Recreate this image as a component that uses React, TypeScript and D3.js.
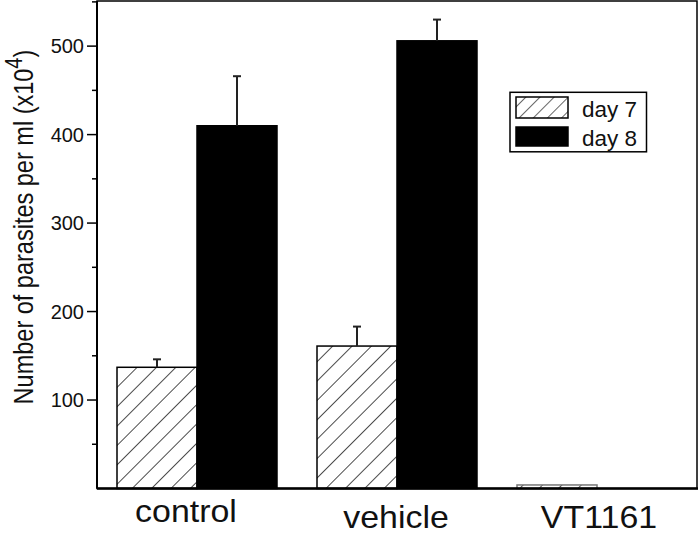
import React from "react";
import * as d3 from "d3";

const categories = ["control", "vehicle", "VT1161"];
const seriesNames = ["day 7", "day 8"];
const day7 = [137, 161, 4];
const day8 = [410, 506, 0];
const day7Err = [9, 22, 0];
const day8Err = [56, 24, 0];
const yTicks = [100, 200, 300, 400, 500];

// layout tweaks for category labels (pixels)
const labelDx = [-11, -1, 2];
const labelY = [522, 528, 528];

const W = 700, H = 535;
const L = 97, R = 697, T = 1, B = 488.5;

export default function App() {
  const x = d3.scaleBand<string>().domain(categories).range([L, R]).paddingInner(0.2).paddingOuter(0.1);
  const xs = d3.scaleBand<string>().domain(seriesNames).range([0, x.bandwidth()]);
  const y = d3.scaleLinear().domain([0, 551]).range([B, T]);
  const minor = d3.range(50, 551, 100);
  const font = "Arial, 'Liberation Sans', sans-serif";

  const bars: any[] = [];
  categories.forEach((c, i) => {
    [day7, day8].forEach((arr, s) => {
      const v = arr[i];
      const err = s === 0 ? day7Err[i] : day8Err[i];
      const x0 = (x(c) as number) + (xs(seriesNames[s]) as number);
      const w = xs.bandwidth();
      if (v <= 0) return;
      const yt = y(v);
      bars.push(
        <g key={c + s}>
          <rect x={x0} y={yt} width={w} height={B - yt}
            fill={s === 0 ? "url(#hatch)" : "#000"}
            stroke={s === 0 ? (v < 10 ? "#777" : "#000") : "#000"} strokeWidth={1.5} />
          {err > 0 && (
            <g stroke="#222" strokeWidth={2}>
              <line x1={x0 + w / 2} x2={x0 + w / 2} y1={yt} y2={y(v + err)} />
              <line x1={x0 + w / 2 - 4} x2={x0 + w / 2 + 4} y1={y(v + err)} y2={y(v + err)} />
            </g>
          )}
        </g>
      );
    });
  });

  return (
    <svg width={W} height={H} style={{ position: "absolute", left: 0, top: 0, background: "#fff" }}>
      <defs>
        <pattern id="hatch" patternUnits="userSpaceOnUse" width={13.7} height={13.7} patternTransform="rotate(45)">
          <rect width={13.7} height={13.7} fill="#fff" />
          <line x1={0} y1={0} x2={0} y2={13.7} stroke="#000" strokeWidth={1.4} />
        </pattern>
        <pattern id="hatchL" patternUnits="userSpaceOnUse" width={10} height={10} patternTransform="rotate(45)">
          <rect width={10} height={10} fill="#fff" />
          <line x1={0} y1={0} x2={0} y2={10} stroke="#000" strokeWidth={1.2} />
        </pattern>
      </defs>
      {bars}
      {/* frame */}
      <rect x={L} y={T} width={R - L} height={B - T} fill="none" stroke="#000" strokeWidth={1.5} />
      <line x1={L} x2={R + 1} y1={B} y2={B} stroke="#000" strokeWidth={2.5} />
      <line x1={L} x2={L} y1={T} y2={B} stroke="#000" strokeWidth={2} />
      {/* y ticks */}
      {yTicks.map((t) => (
        <g key={t}>
          <line x1={L - 10} x2={L} y1={y(t)} y2={y(t)} stroke="#000" strokeWidth={1.5} />
          <text x={L - 13} y={y(t)} dy="0.35em" textAnchor="end" fontFamily={font} fontSize={20} fill="#111">{t}</text>
        </g>
      ))}
      {minor.map((t) => (
        <line key={t} x1={L - 5} x2={L} y1={y(t)} y2={y(t)} stroke="#000" strokeWidth={1.5} />
      ))}
      {/* x labels */}
      {categories.map((c, i) => (
        <text key={c}
          transform={`translate(${(x(c) as number) + x.bandwidth() / 2 + labelDx[i]},${labelY[i]}) scale(1.06,1)`}
          textAnchor="middle" fontFamily={font} fontSize={32} fill="#111">{c}</text>
      ))}
      {/* y label */}
      <text transform={`translate(33,227) rotate(-90) scale(0.84,1)`} textAnchor="middle" fontFamily={font} fontSize={28} fill="#111">
        Number of parasites per ml (x10<tspan dy="-11" fontSize={24}>4</tspan><tspan dy="11">)</tspan>
      </text>
      {/* legend */}
      <rect x={510} y={92.3} width={136.5} height={59.5} fill="#fff" stroke="#000" strokeWidth={1.5} />
      <rect x={516} y={97} width={52} height={21} fill="url(#hatchL)" stroke="#000" strokeWidth={1.5} />
      <rect x={516} y={127} width={52} height={19} fill="#000" stroke="#000" strokeWidth={1.5} />
      <text x={582} y={116.5} fontFamily={font} fontSize={22.5} fill="#111">{seriesNames[0]}</text>
      <text x={582} y={145.5} fontFamily={font} fontSize={22.5} fill="#111">{seriesNames[1]}</text>
    </svg>
  );
}
